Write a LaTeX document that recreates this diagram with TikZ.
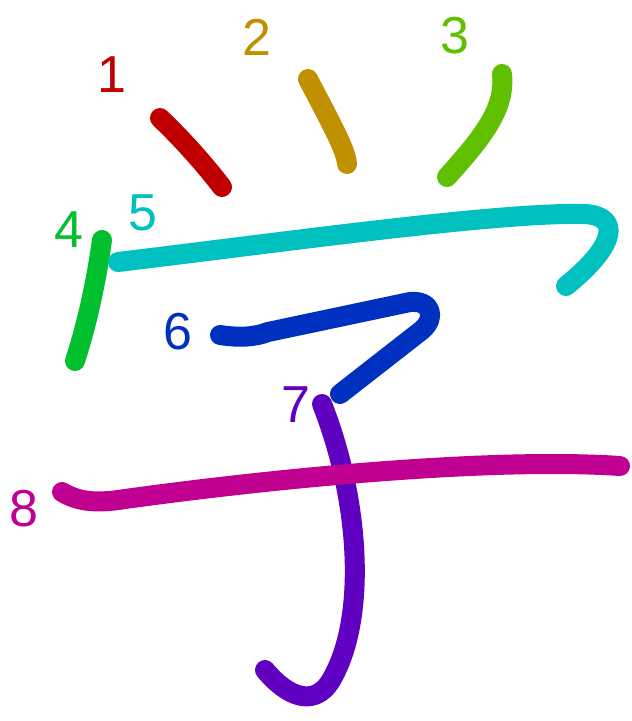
\documentclass[tikz,border=0pt]{standalone}
\usepackage{fontspec}
\setmainfont{Liberation Sans}
\definecolor{cA}{HTML}{C00000}
\definecolor{cB}{HTML}{C09000}
\definecolor{cC}{HTML}{60C000}
\definecolor{cD}{HTML}{00C030}
\definecolor{cE}{HTML}{00C0C0}
\definecolor{cF}{HTML}{0030C0}
\definecolor{cG}{HTML}{6000C0}
\definecolor{cH}{HTML}{C00090}
\tikzset{
  stroke/.style={line width=20pt, line cap=round, line join=round},
  num/.style={font=\fontsize{52}{52}\selectfont, inner sep=0pt}
}
\begin{document}
\begin{tikzpicture}[x=1pt,y=-1pt]
\useasboundingbox (0,0) rectangle (632,721);
% strokes
\draw[stroke,cA] (160,118) .. controls (185,142) and (205,165) .. (222,187);
\draw[stroke,cB] (308,79) .. controls (332,125) and (346,150) .. (347,164);
\draw[stroke,cC] (502,74) .. controls (506,110) and (480,140) .. (447,177);
\draw[stroke,cD] (102,240) .. controls (95,290) and (85,330) .. (75,361);
\draw[stroke,cE] (118,262) .. controls (300,240) and (500,212) .. (585,214) .. controls (620,216) and (618,244) .. (566,286);
\draw[stroke,cF] (220,335) .. controls (240,338) and (255,337) .. (268,332) -- (410,302) .. controls (432,300) and (436,318) .. (422,330) -- (340,394);
\draw[stroke,cG] (322,404) .. controls (360,500) and (368,620) .. (330,682) .. controls (315,705) and (290,700) .. (265,670);
\draw[stroke,cH] (62,492) .. controls (80,503) and (100,503) .. (125,499) .. controls (300,475) and (500,458) .. (620,466);
% labels
\node[num,text=cA] (n1) at (112,75) {1};
\node[num,text=cB] (n2) at (257,37) {2};
\node[num,text=cC] (n3) at (455,36) {3};
\node[num,text=cD] (n4) at (69,230) {4};
\node[num,text=cE] (n5) at (143,213) {5};
\node[num,text=cF] (n6) at (178,332) {6};
\node[num,text=cG] (n7) at (296,405) {7};
\node[num,text=cH] (n8) at (24,509) {8};
\end{tikzpicture}
\end{document}
